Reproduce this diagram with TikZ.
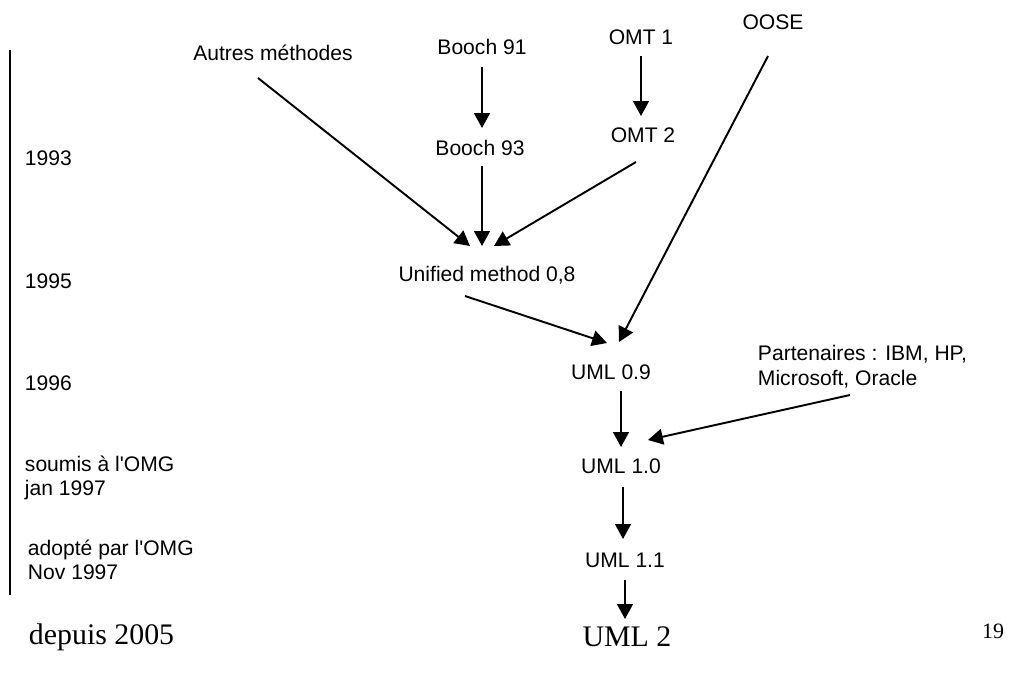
\documentclass[tikz,border=0pt]{standalone}
\usepackage{fontspec}
\setmainfont{Liberation Serif}
\setsansfont{Liberation Sans}[Ligatures=TeXOff]
\usetikzlibrary{arrows.meta,calc}

\begin{document}
\begin{tikzpicture}[x=0.02cm,y=-0.02cm,line width=1.1pt,
  lbl/.style={font=\sffamily\fontsize{12}{14}\selectfont,inner sep=0pt},
  yr/.style={lbl,anchor=west,align=left},
  ver/.style={font=\rmfamily\fontsize{17}{20}\selectfont,inner sep=0pt},
  flow/.style={-{Triangle[length=8.5pt,width=9pt]}}]
  \useasboundingbox (0,0) rectangle (1015,673);
  % time line
  \draw (10,50) -- (10,595);
  \node[yr] (y93) at (24,158) {1993};
  \node[yr] (y95) at (24,281) {1995};
  \node[yr] (y96) at (24,383) {1996};
  \node[yr] (y97a) at (24,478) {soumis à l'OMG\\jan 1997};
  \node[yr] (y97b) at (27,560) {adopté par l'OMG\\Nov 1997};
  \node[ver,anchor=west] (y05) at (28,637) {depuis 2005};
  % methods
  \node[lbl] (autres) at (273,53) {Autres méthodes};
  \node[lbl] (booch91) at (482,47) {Booch 91};
  \node[lbl] (omt1) at (641,37) {OMT 1};
  \node[lbl] (oose) at (773,22) {OOSE};
  \node[lbl] (booch93) at (480,148) {Booch 93};
  \node[lbl] (omt2) at (643,135) {OMT 2};
  \node[lbl] (unified) at (487,275) {Unified method 0,8};
  \node[lbl] (uml09) at (611,372) {UML 0.9};
  \node[yr] (partners) at (757,367) {Partenaires : IBM, HP,\\Microsoft, Oracle};
  \node[lbl] (uml10) at (621,466) {UML 1.0};
  \node[lbl] (uml11) at (625,560) {UML 1.1};
  \node[ver] (uml2) at (627,637) {UML 2};
  \node[ver,font=\rmfamily\fontsize{12.5}{14}\selectfont] (page) at (993,631) {19};
  % arrows
  \draw[flow] ($(booch91)+(0,20)$) -- ($(booch93)+(2,-20)$);
  \draw[flow] ($(omt1)+(0,19)$) -- ($(omt2)+(-2,-19)$);
  \draw[flow] ($(autres)+(-15,25)$) -- ($(unified)+(-17,-29)$);
  \draw[flow] ($(booch93)+(2,18)$) -- ($(unified)+(-5,-29)$);
  \draw[flow] ($(omt2)+(-7,27)$) -- ($(unified)+(7,-29)$);
  \draw[flow] ($(unified)+(-22,21)$) -- ($(uml09)+(-4,-29)$);
  \draw[flow] ($(oose)+(-5,34)$) -- ($(uml09)+(8,-30)$);
  \draw[flow] ($(uml09)+(10,19)$) -- ($(uml10)+(0,-19)$);
  \draw[flow] ($(partners.west)+(93,28)$) -- ($(uml10)+(27,-26)$);
  \draw[flow] ($(uml10)+(2,21)$) -- ($(uml11)+(-2,-21)$);
  \draw[flow] ($(uml11)+(0,20)$) -- ($(uml2)+(-2,-18)$);
\end{tikzpicture}
\end{document}
